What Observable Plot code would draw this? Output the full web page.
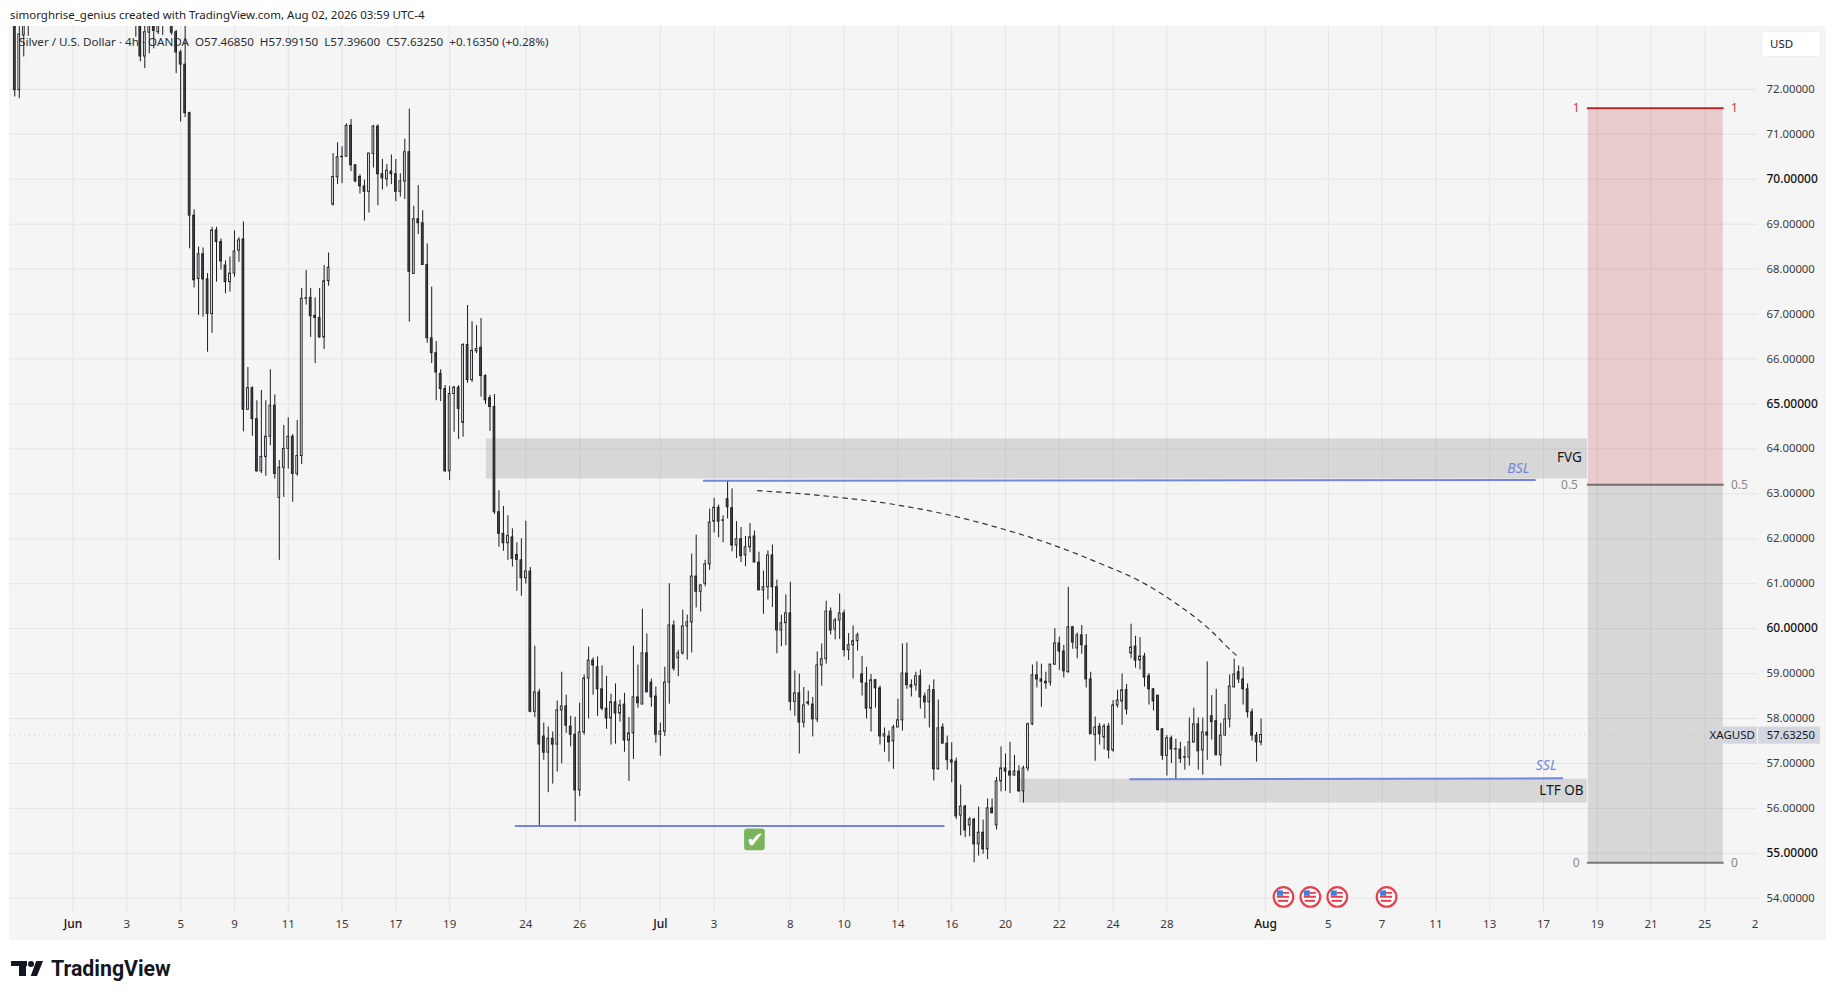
<!DOCTYPE html>
<html>
<head>
<meta charset="utf-8">
<script src="https://cdn.jsdelivr.net/npm/d3@7"></script>
<script src="https://cdn.jsdelivr.net/npm/@observablehq/plot@0.6"></script>
<style>
html,body{margin:0;padding:0;background:#fff;width:1835px;height:1000px;overflow:hidden;font-family:"Noto Sans",sans-serif;}
#head{position:absolute;left:10px;top:6px;font-size:11.5px;line-height:18px;color:#222;white-space:pre;}
#chart{position:absolute;left:9px;top:26px;}
#legend{position:absolute;left:19px;top:33px;font-size:11.65px;line-height:18px;color:#2a2e39;white-space:pre;}
#usd{position:absolute;left:1761px;top:31px;width:60px;height:26px;box-sizing:border-box;background:#fff;border:1px solid #eee;border-radius:4px;font-size:11.5px;line-height:24px;padding-left:8px;color:#222;}
#brand{position:absolute;left:51px;top:954px;font-family:Roboto,sans-serif;font-weight:700;font-size:21.3px;line-height:30px;color:#131722;}
.lg{position:absolute;background:#131722;}
</style>
</head>
<body>
<div id="head">simorghrise_genius created with TradingView.com, Aug 02, 2026 03:59 UTC-4</div>
<div id="chart"></div>
<div id="legend">Silver / U.S. Dollar · 4h · OANDA  O57.46850  H57.99150  L57.39600  C57.63250  +0.16350 (+0.28%)</div>
<div id="usd">USD</div>
<div class="lg" style="left:11px;top:961px;width:16px;height:5px"></div>
<div class="lg" style="left:19px;top:961px;width:7px;height:15px"></div>
<div class="lg" style="left:28px;top:961px;width:6px;height:6px;border-radius:50%"></div>
<div class="lg" style="left:28px;top:961px;width:15px;height:15px;clip-path:polygon(55% 0,100% 0,60% 100%,18% 100%)"></div>
<div id="brand">TradingView</div>
<script>
// Bars are numbered from 0 (4h candles); rows are [open, high, low, close].
const firstBarA = 0;
const candlesA = [[74.5,75,71.83,71.98],[71.98,74,71.79,73.22],[73.2,74.6,72.72,74.2],[74.6,75,73.18,73.6]];
const firstBarB = 27;
const candlesB = [[74.4,74.6,73.16,73.6],[74.2,74.5,72.61,72.73],[72.73,73.8,72.46,73.27],[73.26,73.9,72.79,73.6],[73.6,73.8,72.9,73.3],[73.27,73.9,73.22,73.7],[73.9,74,73.2,73.5]];
const firstBarC = 35;
const candlesC = [
[73.6,73.9,73.2,73.26],[73.27,73.31,72.35,72.82],[72.82,72.87,71.27,72.55],[72.55,73.5,71.37,71.47],[71.47,71.49,68.45,69.19],
[69.19,69.32,67.58,67.75],[67.78,68.49,66.97,68.33],[68.33,68.47,66.93,67.77],[67.77,67.9,66.15,67.0],[67.0,68.93,66.57,68.86],
[68.86,68.93,67.71,68.6],[68.6,68.67,67.98,68.17],[68.08,68.18,67.45,67.71],[67.71,68.27,67.49,67.9],[67.9,68.85,67.82,68.39],
[68.41,68.7,68.15,68.64],[68.66,69.05,64.38,64.87],[64.87,65.81,64.87,65.35],[65.35,65.38,64.28,64.66],[64.66,65.07,63.48,63.5],
[63.5,65.3,63.45,63.82],[63.82,65.07,63.39,64.27],[64.27,65.76,64.07,64.96],[64.96,65.2,63.33,63.44],[62.91,63.74,61.52,63.58],
[63.58,64.52,62.92,64.0],[64.0,64.69,63.55,64.27],[64.27,64.32,62.81,63.44],[63.44,64.63,63.39,63.84],[63.84,67.57,63.65,67.34],
[67.34,67.97,67.2,67.35],[67.36,67.57,66.48,66.95],[66.96,67.36,65.9,66.91],[66.91,67.57,66.46,66.48],[66.48,68.08,66.21,67.73],
[67.73,68.36,67.62,68.03],[69.44,70.57,69.4,70.05],[70.04,70.81,69.88,70.49],[70.49,70.72,69.9,70.5],[70.5,71.23,70.5,71.19],
[71.19,71.33,70.17,70.31],[70.31,70.32,69.92,69.95],[70.05,70.1,69.67,69.84],[69.84,69.98,69.07,69.72],[69.72,70.58,69.25,70.57],
[70.56,71.2,70.25,71.17],[71.17,71.21,69.41,70.11],[70.11,70.44,69.76,70.02],[70.0,70.33,69.83,70.19],[70.17,70.54,69.88,70.11],
[70.11,70.44,69.5,69.72],[69.72,70.12,69.6,69.95],[69.95,70.89,69.55,70.6],[70.6,71.56,66.82,67.94],[67.89,69.4,67.89,69.11],
[69.11,69.86,68.77,69.02],[69.02,69.3,68.09,68.09],[68.09,68.56,66.35,66.46],[66.46,67.6,65.9,66.13],[66.13,66.39,65.07,65.7],
[65.67,65.76,65.05,65.33],[65.33,65.41,63.48,63.5],[63.5,65.39,63.3,65.22],[65.22,65.39,64.37,65.36],[65.36,65.41,64.21,64.89],
[64.58,66.34,64.26,66.31],[66.31,67.19,65.46,65.53],[65.53,66.83,65.48,66.18],[66.17,66.74,66.12,66.22],[66.25,66.9,65.15,65.62],
[65.62,65.65,64.99,65.08],[65.13,65.19,64.39,64.93],[64.93,65.21,62.54,62.59],[62.59,63.07,61.81,62.11],[62.11,62.72,61.72,61.9],
[61.9,62.51,61.52,62.06],[62.03,62.22,61.37,61.55],[61.64,61.91,60.83,61.53],[61.52,62.0,60.72,61.12],[61.12,62.39,60.99,61.27],
[61.27,61.36,58.13,58.15],[58.15,59.61,58.02,58.58],[58.58,58.65,55.59,57.42],[57.6,57.9,57.07,57.24],[57.24,57.81,56.35,57.55],
[57.55,57.7,56.54,57.42],[57.42,58.39,56.81,58.18],[58.18,59.03,56.99,58.27],[58.27,58.52,57.67,57.84],[57.82,58.05,57.37,57.64],
[57.64,58.03,55.7,56.4],[56.4,58.34,56.26,57.69],[57.69,58.97,57.63,58.89],[58.89,59.59,57.99,59.29],[59.29,59.35,58.52,59.18],
[59.14,59.37,58.05,58.65],[58.65,59.17,58.17,58.22],[58.22,58.94,57.76,58.0],[58.0,58.54,57.41,58.36],[58.36,58.77,57.43,58.11],
[58.11,58.41,57.92,58.29],[58.31,58.56,57.25,57.51],[57.51,58.02,56.6,57.67],[57.67,59.61,57.09,58.47],[58.47,59.19,58.23,58.34],
[58.31,60.43,58.31,59.45],[59.45,59.88,58.58,58.58],[58.8,58.88,58.25,58.47],[58.49,58.7,57.45,57.64]
];
const firstBarD = 144;
const candlesD = [
[57.64,57.9,57.16,57.71],[57.71,59.14,57.6,58.8],[58.8,61.0,58.32,60.07],[60.07,60.17,59.05,59.11],[59.34,59.52,58.93,59.45],
[59.45,60.41,59.41,60.05],[60.05,60.3,59.3,60.14],[60.14,61.66,59.46,61.16],[61.16,62.08,60.46,60.82],[60.82,60.98,60.37,60.96],
[61.0,61.52,60.93,61.43],[61.43,62.66,61.3,62.36],[62.38,62.9,62.13,62.69],[62.69,62.75,62.02,62.38],[62.4,62.51,61.91,62.41],
[62.88,63.29,62.44,62.7],[62.68,63.11,61.71,61.85],[61.85,62.38,61.56,61.99],[61.99,62.25,61.47,61.61],[61.63,62.05,61.38,61.81],
[61.81,62.34,61.69,62.03],[62.05,62.17,61.47,61.47],[61.47,61.7,60.85,60.85],[60.85,61.28,60.32,60.92],[60.92,61.73,60.64,61.63],
[61.63,61.86,60.47,60.92],[60.92,61.08,59.44,59.96],[59.96,60.3,59.6,60.12],[60.12,60.75,59.62,60.34],[60.34,61.03,58.17,58.37],
[58.37,59.06,58.05,58.56],[58.56,58.99,57.21,57.91],[57.91,58.69,57.79,58.29],[58.36,58.61,58.28,58.33],[58.31,58.47,57.59,57.98],
[57.98,59.48,57.91,59.18],[59.18,59.66,58.72,59.32],[59.32,60.61,59.21,60.38],[60.38,60.46,59.86,59.96],[59.98,60.23,59.75,60.18],
[60.18,60.77,59.76,60.34],[60.34,60.41,59.37,59.52],[59.52,59.89,59.29,59.63],[59.63,60.06,58.88,59.72],[59.72,59.9,59.5,59.85],
[58.98,59.38,58.5,58.8],[58.78,59.14,57.99,58.22],[58.22,58.98,57.7,58.85],[58.85,58.87,58.23,58.67],[58.67,58.72,57.41,57.6],
[57.6,57.79,57.25,57.65],[57.6,57.72,57.03,57.47],[57.49,57.85,56.87,57.8],[57.8,58.43,57.8,57.96],[57.96,59.66,57.72,59.0],
[59.0,59.68,58.65,58.74],[58.74,58.86,58.48,58.69],[58.74,59.03,58.61,58.94],[58.94,59.08,58.21,58.47],[58.49,58.57,57.99,58.36],
[58.36,58.74,57.79,58.63],[58.63,58.86,56.61,56.87],[56.87,58.41,56.85,57.78],[57.8,57.88,57.44,57.44],[57.44,57.61,56.85,57.07],
[57.07,57.46,56.57,57.02],[57.04,57.12,55.75,55.82],[55.84,56.52,55.39,56.04],[56.04,56.07,55.35,55.51],[55.62,55.8,55.37,55.75],
[55.75,55.78,54.79,55.2],[55.2,56.03,54.94,55.46],[55.46,55.74,54.98,55.09],[55.09,56.21,54.86,56.0],[56.0,56.21,55.89,55.89],
[55.62,56.69,55.52,56.6],[56.6,57.37,56.37,56.89],[56.89,57.21,56.38,56.82],[56.82,57.47,56.33,56.73],[56.73,57.18,56.73,56.82],
[56.82,56.95,56.35,56.38],[56.38,56.94,56.12,56.89],[56.89,57.9,56.82,57.87],[57.87,59.19,57.84,58.96],[58.96,59.26,58.68,58.87],
[58.87,59.21,58.25,58.82],[58.82,59.03,58.65,58.78],[58.8,59.2,58.72,59.2],[59.2,60.0,59.18,59.67],[59.67,59.81,59.07,59.49],
[59.49,59.63,58.9,59.05],[59.03,60.92,59.01,60.03],[60.03,60.05,59.54,59.69],[59.56,59.9,59.33,59.85],[59.85,60.07,59.43,59.63],
[59.61,59.87,58.68,58.87],[58.87,59.03,57.65,57.65],[57.63,58.03,57.05,57.8],[57.82,57.89,57.41,57.65],[57.58,57.87,57.3,57.82],
[57.82,57.89,57.1,57.29],[57.29,58.4,57.25,58.29],[58.29,58.63,58.23,58.4],[58.38,58.99,57.85,58.63],[58.63,58.76,58.08,58.2],
[59.45,60.1,59.33,59.58],[59.6,59.83,59.12,59.29],[59.29,59.8,59.08,59.38],[59.38,59.45,58.7,58.91],[58.94,59.0,58.3,58.65],
[58.65,58.67,58.17,58.38],[58.51,58.51,57.72,57.74],[57.76,57.78,57.07,57.17],[57.17,57.62,56.72,57.56],[57.56,57.61,57.0,57.31],
[57.31,57.54,56.63,57.32],[57.31,57.47,57.0,57.1],[57.13,57.37,56.85,57.14],[57.13,58.01,56.94,57.47],[57.47,58.23,57.45,57.87],
[57.87,58.01,56.85,57.27],[57.29,58.01,56.74,57.69],[57.69,59.26,57.07,57.62],[58.05,58.51,57.52,57.92],[57.94,58.65,57.18,57.18],
[57.18,57.89,56.94,57.62],[57.62,58.31,57.62,57.98],[57.98,58.97,57.79,58.71],[58.69,59.32,58.69,58.98],[59.03,59.17,58.78,58.87],
[58.87,59.14,58.3,58.65],[58.65,58.77,58.01,58.14],[58.14,58.21,57.5,57.62],[57.62,57.69,57.03,57.47],[57.4685,57.9915,57.396,57.6325]
];

// Price axis
const priceTicks = [54,56,57,58,59,61,62,63,64,66,67,68,69,71,72];
const priceTicksBold = [55,60,65,70];
// Time axis: bar number and its label
const dayBars = [25,37,49,61,73,85,97,114,126,156,173,185,197,209,221,233,245,257,293,305,317,329,341,353,365,377,388.2];
const dayLabels = ["3","5","9","11","15","17","19","24","26","3","8","10","14","16","20","22","24","28","5","7","11","13","17","19","21","25","2"];
const monthBars = [13,144,279];
const monthLabels = ["Jun","Jul","Aug"];
const lastPrice = 57.6325;

// Drawings
const fvgZone = {left:105.2,right:350.8,top:64.22,bottom:63.33};
const obZone = {left:224.1,right:350.8,top:56.65,bottom:56.12};
const bslLine = [[153.7,63.29],[339.1,63.31]];
const sslLine = [[248.8,56.65],[345.2,56.67]];
const sweptLine = [[111.7,55.61],[207.2,55.61]];
const arcBars = [165.7,176,185.7,193.1,200.4,207,218.5,230.8,242.1,251.3,255.6,259.6,263.6,267.3,270.8,273];
const arcPrices = [63.07,62.997,62.9,62.81,62.69,62.56,62.27,61.89,61.45,61.04,60.79,60.52,60.23,59.91,59.56,59.36];
const positionBars = [351,381.1];
const positionPrices = {stop:71.58, entry:63.2, target:54.79};
const eventBars = [283,289,295,306];
const eventPrice = 54.03;
const checkBar = 165.1, checkPrice = 55.3;

const rowsOf = (first, rows) => rows.map((r,k)=>({bar:first+k,open:r[0],high:r[1],low:r[2],close:r[3]}));
const candles = [...rowsOf(firstBarA,candlesA),...rowsOf(firstBarB,candlesB),...rowsOf(firstBarC,candlesC),...rowsOf(firstBarD,candlesD)];
const bodyHalf = 0.2;
const ink = "#1b1b1f";
const grey = "#878787";
const lineBlue = "#7486d8";
const zoneFill = "#7f7f85";
const labelOf = new Map([...dayBars.map((b,k)=>[b,dayLabels[k]]),...monthBars.map((b,k)=>[b,monthLabels[k]])]);
const font = "Noto Sans";
const one = (d)=>[d];

const chart = Plot.plot({
  width:1817, height:914,
  marginLeft:0, marginRight:69, marginTop:0, marginBottom:28,
  style:{background:"#f5f5f5",fontFamily:font,overflow:"hidden"},
  x:{type:"linear",domain:[-1.18,388.74],axis:null},
  y:{type:"linear",domain:[53.684,73.398],axis:null},
  marks:[
    Plot.gridX([...monthBars,...dayBars.filter(b=>b<388)],{stroke:"#e4e4e4",strokeOpacity:1,strokeWidth:1}),
    Plot.gridY([...priceTicks,...priceTicksBold],{stroke:"#e4e4e4",strokeOpacity:1,strokeWidth:1}),
    // Position tool fills
    Plot.rect(one(positionPrices),{x1:positionBars[0],x2:positionBars[1],y1:d=>d.entry,y2:d=>d.stop,fill:"#b22833",fillOpacity:0.2}),
    Plot.rect(one(positionPrices),{x1:positionBars[0],x2:positionBars[1],y1:d=>d.target,y2:d=>d.entry,fill:"#808080",fillOpacity:0.25}),
    // Zones
    Plot.rect([fvgZone,obZone],{x1:"left",x2:"right",y1:"bottom",y2:"top",fill:zoneFill,fillOpacity:0.25}),
    // Last price dotted line
    Plot.ruleY([lastPrice],{stroke:"#c9c9c9",strokeWidth:1,strokeDasharray:"1,4"}),
    // Candles
    Plot.ruleX(candles,{x:"bar",y1:"low",y2:"high",stroke:ink,strokeWidth:1,clip:"frame"}),
    Plot.rect(candles,{x1:d=>d.bar-bodyHalf,x2:d=>d.bar+bodyHalf,y1:"open",y2:"close",
      fill:d=>d.close<d.open?"#45454e":"#f0f0f0",stroke:ink,strokeWidth:0.9,clip:"frame"}),
    // Level lines
    Plot.line(bslLine,{x:d=>d[0],y:d=>d[1],stroke:lineBlue,strokeWidth:2}),
    Plot.line(sslLine,{x:d=>d[0],y:d=>d[1],stroke:lineBlue,strokeWidth:2}),
    Plot.line(sweptLine,{x:d=>d[0],y:d=>d[1],stroke:lineBlue,strokeWidth:2}),
    Plot.line(arcBars,{x:d=>d,y:(d,k)=>arcPrices[k],stroke:"#333",strokeWidth:1.2,strokeDasharray:"4.5,5",curve:"monotone-x"}),
    // Position tool lines
    Plot.ruleY([positionPrices.stop],{x1:350.8,x2:381.3,stroke:"#b22833",strokeWidth:2}),
    Plot.ruleY([positionPrices.entry],{x1:350.8,x2:381.3,stroke:"#7a6a6a",strokeWidth:2}),
    Plot.ruleY([positionPrices.target],{x1:350.8,x2:381.3,stroke:"#787878",strokeWidth:2}),
    Plot.text(["1"],{x:348.3,y:positionPrices.stop,text:d=>d,fill:"#c43a45",fontSize:12}),
    Plot.text(["1"],{x:383.6,y:positionPrices.stop,text:d=>d,fill:"#c43a45",fontSize:12}),
    Plot.text(["0.5"],{x:346.8,y:positionPrices.entry,text:d=>d,fill:grey,fontSize:12}),
    Plot.text(["0.5"],{x:384.7,y:positionPrices.entry,text:d=>d,fill:grey,fontSize:12}),
    Plot.text(["0"],{x:348.3,y:positionPrices.target,text:d=>d,fill:grey,fontSize:12}),
    Plot.text(["0"],{x:383.6,y:positionPrices.target,text:d=>d,fill:grey,fontSize:12}),
    // Zone labels
    Plot.text(["FVG"],{x:346.8,y:63.8,text:d=>d,fill:"#131722",fontSize:13.5}),
    Plot.text(["LTF OB"],{x:345,y:56.4,text:d=>d,fill:"#131722",fontSize:13.5}),
    Plot.text(["BSL"],{x:335.4,y:63.57,text:d=>d,fill:lineBlue,fontSize:14,fontStyle:"italic"}),
    Plot.text(["SSL"],{x:341.6,y:56.95,text:d=>d,fill:lineBlue,fontSize:14,fontStyle:"italic"}),
    // Check mark
    Plot.rect(one(checkBar),{x1:d=>d-2.3,x2:d=>d+2.3,y1:checkPrice-0.24,y2:checkPrice+0.24,fill:"#7ab55c",rx:3,ry:3}),
    Plot.text(["✔"],{x:checkBar,y:checkPrice,text:d=>d,fill:"#fff",fontSize:21,fontFamily:"DejaVu Sans"}),
    // Economic event flags
    Plot.dot(eventBars,{x:d=>d,y:eventPrice,r:9.8,fill:"#fff",stroke:"#e8404c",strokeWidth:2.2}),
    Plot.rect(eventBars,{x1:d=>d-1.35,x2:d=>d+1.35,y1:eventPrice-0.03,y2:eventPrice+0.015,fill:"#e8404c"}),
    Plot.rect(eventBars,{x1:d=>d-1.15,x2:d=>d+1.15,y1:eventPrice-0.12,y2:eventPrice-0.075,fill:"#e8404c"}),
    Plot.rect(eventBars,{x1:d=>d,x2:d=>d+1.35,y1:eventPrice+0.06,y2:eventPrice+0.1,fill:"#e8404c"}),
    Plot.rect(eventBars,{x1:d=>d-1.35,x2:d=>d,y1:eventPrice+0.015,y2:eventPrice+0.135,fill:"#3b82e0"}),
    // Last price labels
    Plot.rect(one(lastPrice),{x1:377.5,x2:388.7,y1:57.43,y2:57.81,fill:"#d3d6df"}),
    Plot.rect(one(lastPrice),{x1:389,x2:402.8,y1:57.43,y2:57.81,fill:"#d3d6df"}),
    Plot.text(["XAGUSD"],{x:383.1,y:lastPrice,text:d=>d,fill:"#131722",fontSize:11.5}),
    Plot.text(["57.63250"],{x:390.8,y:lastPrice,text:d=>d,fill:"#131722",fontSize:11.3,textAnchor:"start"}),
    // Axes
    Plot.axisY({anchor:"right",ticks:priceTicks,tickSize:0,tickPadding:9,tickFormat:d=>d.toFixed(5),fontSize:11.3,fill:"#3a3a3a",fontFamily:font}),
    Plot.axisY({anchor:"right",ticks:priceTicksBold,tickSize:0,tickPadding:9,tickFormat:d=>d.toFixed(5),fontSize:12,fill:"#111",fontWeight:500,fontFamily:font}),
    Plot.axisX({anchor:"bottom",ticks:dayBars,tickSize:0,tickPadding:7,tickFormat:d=>labelOf.get(d),fontSize:11.5,fill:"#3a3a3a",fontFamily:font}),
    Plot.axisX({anchor:"bottom",ticks:monthBars,tickSize:0,tickPadding:7,tickFormat:d=>labelOf.get(d),fontSize:12,fill:"#111",fontWeight:500,fontFamily:font})
  ]
});
document.getElementById("chart").append(chart);
</script>
</body>
</html>
